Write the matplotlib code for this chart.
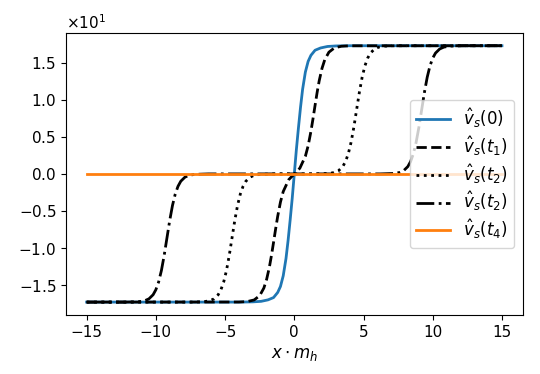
import matplotlib
matplotlib.use("Agg")
import matplotlib.pyplot as plt

plt.rcParams['font.size'] = 11

# v_s(0): single kink
x0 = [-15, -4, -3, -2.4, -1.9, -1.5, -1.2, -1.0, -0.8, -0.6, -0.45, -0.3, -0.15, 0,
      0.15, 0.3, 0.45, 0.6, 0.8, 1.0, 1.2, 1.5, 1.9, 2.4, 3, 4, 15]
v0 = [-17.3, -17.3, -17.27, -17.2, -17.0, -16.69, -16.0, -15.19, -13.75, -11.42, -9.0, -6.23, -3.29, 0,
      3.29, 6.23, 9.0, 11.42, 13.75, 15.19, 16.0, 16.69, 17.0, 17.2, 17.27, 17.3, 17.3]

# v_s(t1)
x1 = [-15, -4.0, -3.4, -2.9, -2.5, -2.2, -2.0, -1.8, -1.65, -1.5, -1.35, -1.2, -1.0, -0.8, -0.4, 0,
      0.4, 0.8, 1.0, 1.2, 1.35, 1.5, 1.65, 1.8, 2.0, 2.2, 2.5, 2.9, 3.4, 4.0, 15]
v1 = [-17.3, -17.29, -17.23, -17.01, -16.43, -15.41, -14.24, -12.58, -11.01, -9.25, -7.44, -5.73, -3.80, -2.38, -0.77, 0,
      0.77, 2.38, 3.80, 5.73, 7.44, 9.25, 11.01, 12.58, 14.24, 15.41, 16.43, 17.01, 17.23, 17.29, 17.3]

# v_s(t2), dotted
x2 = [-15, -7.5, -7.0, -6.5, -6.1, -5.8, -5.5, -5.3, -5.1, -4.9, -4.7, -4.5, -4.3, -4.1, -3.9, -3.7,
      -3.5, -3.2, -2.9, -2.5, -1.5, 0,
      1.5, 2.5, 2.9, 3.2, 3.5, 3.7, 3.9, 4.1, 4.3, 4.5, 4.7, 4.9, 5.1, 5.3, 5.5,
      5.8, 6.1, 6.5, 7.0, 7.5, 15]
v2 = [-17.3, -17.3, -17.28, -17.24, -17.11, -16.86, -16.31, -15.63, -14.58, -13.04, -11.01, -8.65, -6.29, -4.26, -2.72, -1.67,
      -0.99, -0.44, -0.19, -0.06, 0.0, 0,
      0.0, 0.06, 0.19, 0.44, 0.99, 1.67, 2.72, 4.26, 6.29, 8.65, 11.01, 13.04, 14.58, 15.63, 16.31,
      16.86, 17.11, 17.24, 17.28, 17.3, 17.3]

# v_s(t2), dash-dot (later time)
x3 = [-15, -12.2, -11.7, -11.2, -10.8, -10.5, -10.2, -10.0, -9.8, -9.6, -9.4, -9.2, -9.0, -8.8, -8.6, -8.4,
      -8.2, -7.9, -7.6, -7.2, -6.2, 0,
      6.2, 7.2, 7.6, 7.9, 8.2, 8.4, 8.6, 8.8, 9.0, 9.2, 9.4, 9.6, 9.8, 10.0, 10.2,
      10.5, 10.8, 11.2, 11.7, 12.2, 15]
v3 = v2

# v_s(t4)
x4 = [-15, -10, -5, 0, 5, 10, 15]
v4 = [0, 0, 0, 0, 0, 0, 0]

fig, ax = plt.subplots(figsize=(5.4, 3.74), dpi=100)
fig.subplots_adjust(left=0.122, right=0.968, top=0.912, bottom=0.158)

ax.plot(x0, v0, color='tab:blue', lw=2, label=r'$\hat{v}_s(0)$')
ax.plot(x1, v1, 'k--', lw=2, label=r'$\hat{v}_s(t_1)$')
ax.plot(x2, v2, 'k:', lw=2, label=r'$\hat{v}_s(t_2)$')
ax.plot(x3, v3, 'k-.', lw=2, label=r'$\hat{v}_s(t_2)$')
ax.plot(x4, v4, color='tab:orange', lw=2, label=r'$\hat{v}_s(t_4)$')

ax.set_xlabel(r'$x \cdot m_h$', fontsize=12)
ax.ticklabel_format(axis='y', style='sci', scilimits=(0, 0), useMathText=True)
ax.legend(loc='center right', fontsize=12, labelspacing=0.25)

fig.savefig('out.png', dpi=100)
